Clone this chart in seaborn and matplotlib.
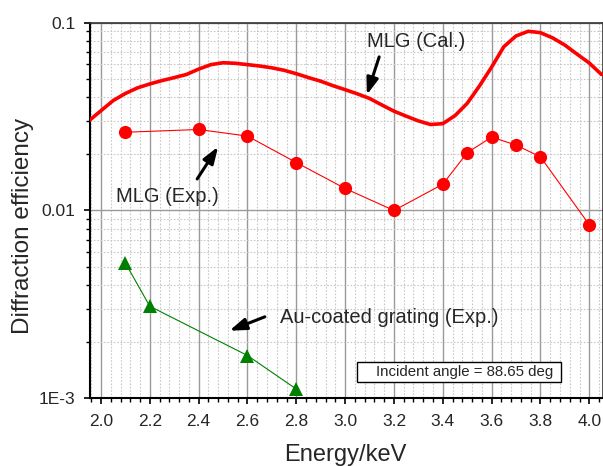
import matplotlib
matplotlib.use("Agg")
import matplotlib.pyplot as plt
from matplotlib.ticker import MultipleLocator, LogLocator, FixedLocator, FixedFormatter, NullFormatter
from matplotlib.patches import Rectangle
import seaborn as sns
import numpy as np

# MLG calculated curve
cal_energy = [1.95, 2.00, 2.05, 2.10, 2.15, 2.20, 2.25, 2.30, 2.35, 2.40, 2.45, 2.50,
              2.55, 2.60, 2.65, 2.70, 2.75, 2.80, 2.85, 2.90, 2.95, 3.00, 3.05, 3.10,
              3.15, 3.20, 3.25, 3.30, 3.35, 3.40, 3.45, 3.50, 3.55, 3.60, 3.65, 3.70,
              3.75, 3.80, 3.85, 3.90, 3.95, 4.00, 4.05]
cal_eff = [0.0300, 0.0340, 0.0385, 0.0420, 0.0450, 0.0472, 0.0492, 0.0510, 0.0530, 0.0566,
           0.0598, 0.0612, 0.0608, 0.0598, 0.0588, 0.0575, 0.0558, 0.0535, 0.0510, 0.0488,
           0.0462, 0.0440, 0.0418, 0.0395, 0.0365, 0.0338, 0.0318, 0.0300, 0.0287, 0.0290,
           0.0320, 0.0372, 0.0460, 0.0580, 0.0745, 0.0850, 0.0900, 0.0885, 0.0830, 0.0760,
           0.0680, 0.0610, 0.0530]

# MLG experimental
exp_energy = [2.1, 2.4, 2.6, 2.8, 3.0, 3.2, 3.4, 3.5, 3.6, 3.7, 3.8, 4.0]
exp_eff = [0.0261, 0.0270, 0.0249, 0.0180, 0.0131, 0.0100, 0.0138, 0.0203, 0.0246,
           0.0223, 0.0193, 0.0084]

# Au-coated grating experimental
au_energy = [2.1, 2.2, 2.6, 2.8]
au_eff = [0.00525, 0.00309, 0.00169, 0.00112]

x_ticks = [2.0, 2.2, 2.4, 2.6, 2.8, 3.0, 3.2, 3.4, 3.6, 3.8, 4.0]
x_ticklabels = ["2.0", "2.2", "2.4", "2.6", "2.8", "3.0", "3.2", "3.4", "3.6", "3.8", "4.0"]
y_ticks = [1e-3, 1e-2, 1e-1]
y_ticklabels = ["1E-3", "0.01", "0.1"]

sns.set_style("ticks")
plt.rcParams['font.family'] = ['Liberation Sans', 'DejaVu Sans']

fig = plt.figure(figsize=(6.03, 4.66), dpi=100)
ax = fig.add_axes([90/603, 1 - 398.3/466, 512.7/603, 375.6/466])

sns.lineplot(x=cal_energy, y=cal_eff, ax=ax, color="#ff0000", linewidth=2.6, sort=False, zorder=3)
sns.lineplot(x=exp_energy, y=exp_eff, ax=ax, color="#ff0000", linewidth=0.8, marker="o",
             markersize=9.5, markeredgewidth=0, sort=False, zorder=4)
sns.lineplot(x=au_energy, y=au_eff, ax=ax, color="#008000", linewidth=0.8, marker="^",
             markersize=10.5, markeredgewidth=0, sort=False, zorder=4)

ax.set_yscale("log")
ax.set_xlim(1.955, 4.055)
ax.set_ylim(1e-3, 0.1)

ax.xaxis.set_major_locator(FixedLocator(x_ticks))
ax.xaxis.set_major_formatter(FixedFormatter(x_ticklabels))
ax.xaxis.set_minor_locator(MultipleLocator(0.04))
ax.yaxis.set_major_locator(FixedLocator(y_ticks))
ax.yaxis.set_major_formatter(FixedFormatter(y_ticklabels))
ax.yaxis.set_minor_locator(LogLocator(base=10, subs=np.arange(2, 10)))
ax.yaxis.set_minor_formatter(NullFormatter())

ax.grid(which="major", color="#9a9a9a", linewidth=1.0, linestyle="-", zorder=0)
ax.grid(which="minor", color="#c8c8c8", linewidth=0.8, linestyle=(0, (1.5, 1.5)), zorder=0)
ax.set_axisbelow(True)

ax.tick_params(which="major", direction="out", length=4.5, width=1.2, labelsize=12.5, color="black")
ax.tick_params(axis="x", which="major", pad=7)
ax.tick_params(axis="y", which="major", pad=6)
ax.tick_params(which="minor", direction="out", length=2.7, width=1.0, color="black")
for s in ["left", "bottom"]:
    ax.spines[s].set_linewidth(1.5)
    ax.spines[s].set_color("black")
for s in ["top", "right"]:
    ax.spines[s].set_linewidth(1.2)
    ax.spines[s].set_color("#333333")

ax.set_xlabel("Energy/keV", fontsize=17)
ax.xaxis.set_label_coords(345/512.7 - 90/512.7, -(455 - 398.3)/375.6)
ax.set_ylabel("Diffraction efficiency", fontsize=17.5)
ax.yaxis.set_label_coords(-(90 - 23)/512.7, 1 - (226 - 22.7)/375.6)
ax.xaxis.label.set_va("center")
ax.yaxis.label.set_va("center")

ap = dict(arrowstyle="-|>,head_length=1.0,head_width=0.35", color="black", lw=2.2, shrinkA=0, shrinkB=0)
ax.annotate("", xy=(0.540, 0.808), xytext=(0.564, 0.909), xycoords="axes fraction",
            textcoords="axes fraction", arrowprops=ap, zorder=6)
ax.text(0.636, 0.949, "MLG (Cal.)", transform=ax.transAxes, fontsize=14.5, ha="center", va="center")

ax.annotate("", xy=(0.250, 0.670), xytext=(0.209, 0.584), xycoords="axes fraction",
            textcoords="axes fraction", arrowprops=ap, zorder=6)
ax.text(0.150, 0.536, "MLG (Exp.)", transform=ax.transAxes, fontsize=14.5, ha="center", va="center")

ax.annotate("", xy=(0.272, 0.180), xytext=(0.341, 0.217), xycoords="axes fraction",
            textcoords="axes fraction", arrowprops=ap, zorder=6)
ax.text(0.583, 0.214, "Au-coated grating (Exp.)", transform=ax.transAxes, fontsize=14.5,
        ha="center", va="center")

ax.add_patch(Rectangle((0.521, 0.0442), 0.918 - 0.521, 0.0975 - 0.0442, transform=ax.transAxes,
                       facecolor="white", edgecolor="black", linewidth=1.0, zorder=5))
ax.text(0.730, 0.070, "Incident angle = 88.65 deg", transform=ax.transAxes, fontsize=10.8,
        ha="center", va="center", zorder=6)

fig.savefig("out.png", dpi=100)
